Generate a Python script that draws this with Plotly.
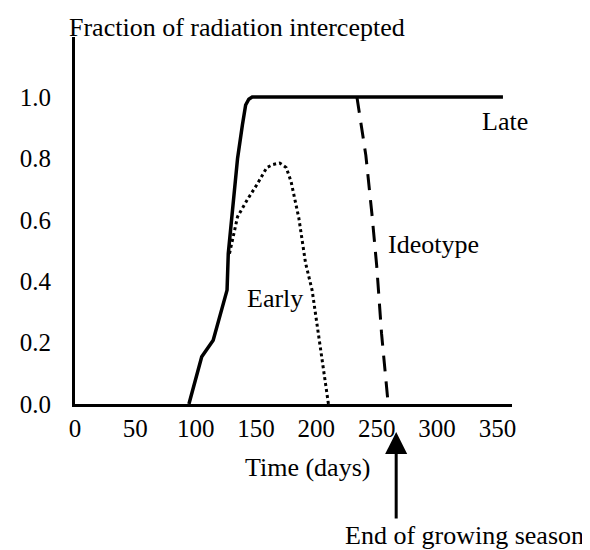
import plotly.graph_objects as go

# ---- data ----
late_days = [94.4, 105, 114.5, 120, 126, 127, 130.6, 134.7, 138.7, 141.4, 144, 146.8, 354.6]
late_frac = [0.0, 0.154, 0.208, 0.284, 0.371, 0.49, 0.648, 0.80, 0.909, 0.974, 0.993, 1.0, 1.0]

early_days = [128, 134.7, 142.7, 150.8, 158.9, 164, 169.6, 175, 179, 185.5, 191, 196.5, 210]
early_frac = [0.49, 0.61, 0.665, 0.715, 0.77, 0.78, 0.785, 0.77, 0.725, 0.605, 0.46, 0.37, 0.0]

ideo_days = [233.6, 241, 246, 250, 254, 259.5]
ideo_frac = [1.0, 0.81, 0.62, 0.45, 0.23, 0.0]

x_ticks = [0, 50, 100, 150, 200, 250, 300, 350]
y_ticks = [0.0, 0.2, 0.4, 0.6, 0.8, 1.0]
y_tick_labels = ["0.0", "0.2", "0.4", "0.6", "0.8", "1.0"]

FONT = "Liberation Serif"

# page body has an 8px default margin; compensate
OFF = 8
FIG_W, FIG_H = 590 - OFF, 550 - OFF

# plot-area geometry (pixels, in reference-image coordinates)
L, R, T, B = 63, 512, 37, 404
W, H = R - L, B - T


def px(xp):
    return (xp - L) / W


def py(yp):
    return (B - yp) / H


fig = go.Figure()
fig.add_trace(go.Scatter(x=late_days, y=late_frac, mode="lines",
                         line=dict(color="black", width=3.5), cliponaxis=False))
fig.add_trace(go.Scatter(x=early_days, y=early_frac, mode="lines",
                         line=dict(color="black", width=3, dash="3px,3px"), cliponaxis=False))
fig.add_trace(go.Scatter(x=ideo_days, y=ideo_frac, mode="lines",
                         line=dict(color="black", width=3, dash="16px,10px"), cliponaxis=False))

fig.update_layout(
    width=FIG_W, height=FIG_H,
    margin=dict(l=L - OFF, r=FIG_W - (R - OFF), t=T - OFF, b=FIG_H - (B - OFF), pad=0),
    paper_bgcolor="white", plot_bgcolor="white",
    showlegend=False,
    font=dict(family=FONT, size=25, color="black"),
)
fig.update_xaxes(range=[0, W / 1.24], showgrid=False, zeroline=False,
                 showline=True, linecolor="black", linewidth=3,
                 tickmode="array", tickvals=x_ticks, ticks="",
                 ticklabelstandoff=0, tickfont=dict(family=FONT, size=25))
fig.update_yaxes(range=[0, H / 307], showgrid=False, zeroline=False,
                 showline=True, linecolor="black", linewidth=3,
                 tickmode="array", tickvals=y_ticks, ticktext=y_tick_labels, ticks="",
                 ticklabelstandoff=16, tickfont=dict(family=FONT, size=25))

ann = [
    dict(text="Fraction of radiation intercepted", x=px(55), y=py(27), xanchor="left", yanchor="middle", size=26),
    dict(text="Late", x=px(504.5), y=py(121), xanchor="center", yanchor="middle", size=26),
    dict(text="Ideotype", x=px(431), y=py(244), xanchor="center", yanchor="middle", size=26),
    dict(text="Early", x=px(268.5), y=py(298), xanchor="center", yanchor="middle", size=26),
    dict(text="Time (days)", x=px(301.5), y=py(468), xanchor="center", yanchor="middle", size=26),
    dict(text="End of growing season", x=px(463), y=py(535), xanchor="center", yanchor="middle", size=26),
]
for a in ann:
    fig.add_annotation(xref="paper", yref="paper", x=a["x"], y=a["y"], text=a["text"],
                       xanchor=a["xanchor"], yanchor=a["yanchor"], showarrow=False,
                       font=dict(family=FONT, size=a["size"], color="black"))

# arrow marking the end of the growing season
fig.add_annotation(xref="paper", yref="paper", x=px(393), y=py(432), text="",
                   showarrow=True, ax=0, ay=88, arrowhead=2, arrowsize=1.47,
                   arrowwidth=3, arrowcolor="black", standoff=0)

fig.write_html("out.html")
